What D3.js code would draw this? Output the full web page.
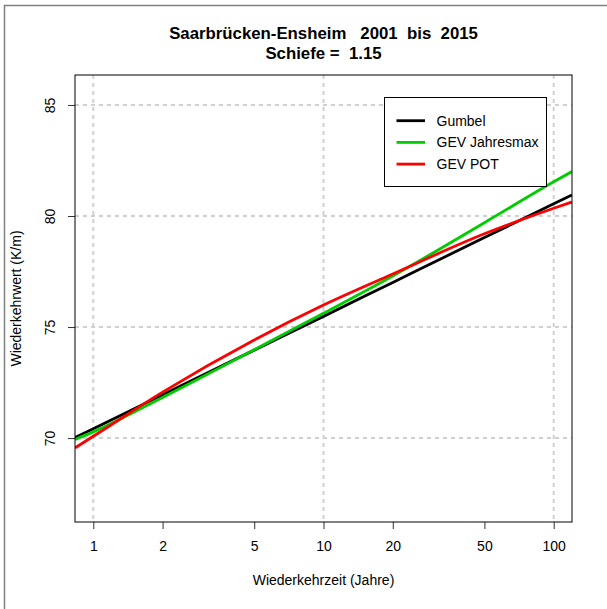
<!DOCTYPE html>
<html>
<head>
<meta charset="utf-8">
<script src="https://cdn.jsdelivr.net/npm/d3@7"></script>
<style>
  html, body { margin: 0; padding: 0; background: #fff; }
  svg { display: block; font-family: "Liberation Sans", Arial, Helvetica, sans-serif; }
</style>
</head>
<body>
<svg id="chart" width="607" height="609"></svg>
<script>
// ---- data ----
const returnPeriods = [0.833, 1, 2, 5, 10, 20, 50, 100, 120];
const gumbel        = [70.02, 70.42, 71.95, 73.96, 75.48, 77.01, 79.03, 80.55, 80.95];
const gevJahresmax  = [69.94, 70.28, 71.83, 73.98, 75.62, 77.30, 79.70, 81.54, 82.00];
const gevPot        = [69.56, 70.08, 72.07, 74.42, 75.99, 77.39, 79.20, 80.35, 80.63];

const xTicks = [1, 2, 5, 10, 20, 50, 100];
const xGrid = [1, 10, 100];
const yTicks = [70, 75, 80, 85];

const seriesNames = ["Gumbel", "GEV Jahresmax", "GEV POT"];
const seriesColors = ["#000000", "#00cd00", "#ff0000"];
const seriesValues = [gumbel, gevJahresmax, gevPot];

const titleLine1 = "Saarbrücken-Ensheim   2001  bis  2015";
const titleLine2 = "Schiefe =  1.15";
const xLabel = "Wiederkehrzeit (Jahre)";
const yLabel = "Wiederkehrwert (K/m)";

// ---- layout ----
const plot = { left: 75, right: 572, top: 75, bottom: 522 };
const fs = 14;
const svg = d3.select("#chart");

const x = d3.scaleLog()
  .domain([Math.pow(10, -0.0795), Math.pow(10, 2.0795)])
  .range([plot.left, plot.right]);
const y = d3.scaleLinear()
  .domain([66.22, 86.35])
  .range([plot.bottom, plot.top]);

// outer figure frame
svg.append("rect")
  .attr("x", 4.5).attr("y", 5.5)
  .attr("width", 700).attr("height", 700)
  .attr("fill", "none").attr("stroke", "#808080").attr("stroke-width", 1.5);

// clip
svg.append("clipPath").attr("id", "clip")
  .append("rect")
  .attr("x", plot.left).attr("y", plot.top)
  .attr("width", plot.right - plot.left).attr("height", plot.bottom - plot.top);

// grid
const grid = svg.append("g")
  .attr("stroke", "#d0d0d0").attr("stroke-width", 2)
  .attr("stroke-dasharray", "4,4").attr("fill", "none");
grid.selectAll("line.v").data(xGrid).join("line")
  .attr("class", "v")
  .attr("x1", d => x(d)).attr("x2", d => x(d))
  .attr("y1", plot.top).attr("y2", plot.bottom);
grid.selectAll("line.h").data(yTicks).join("line")
  .attr("class", "h")
  .attr("x1", plot.left).attr("x2", plot.right)
  .attr("y1", d => y(d)).attr("y2", d => y(d));

// axes
const xAxis = d3.axisBottom(x).tickValues(xTicks).tickFormat(d3.format("d"))
  .tickSizeInner(7).tickSizeOuter(0).tickPadding(12);
const gx = svg.append("g").attr("transform", `translate(0,${plot.bottom})`).call(xAxis);
gx.select(".domain").remove();
gx.selectAll(".tick line").attr("stroke", "#333");
gx.selectAll(".tick text")
  .attr("font-size", fs).attr("fill", "#000")
  .attr("font-family", "Liberation Sans, Arial, sans-serif");

const yAxis = d3.axisLeft(y).tickValues(yTicks).tickFormat(d3.format("d"))
  .tickSizeInner(7).tickSizeOuter(0);
const gy = svg.append("g").attr("transform", `translate(${plot.left},0)`).call(yAxis);
gy.select(".domain").remove();
gy.selectAll(".tick line").attr("stroke", "#333");
gy.selectAll(".tick text")
  .attr("x", null).attr("dy", null)
  .attr("text-anchor", "middle")
  .attr("transform", "translate(-20,0) rotate(-90)")
  .attr("font-size", fs).attr("fill", "#000")
  .attr("font-family", "Liberation Sans, Arial, sans-serif");

// lines
const line = d3.line()
  .x(d => x(d[0])).y(d => y(d[1]))
  .curve(d3.curveMonotoneX);
const lg = svg.append("g").attr("clip-path", "url(#clip)");
seriesValues.forEach((vals, i) => {
  const pts = returnPeriods.map((t, j) => [t, vals[j]]);
  lg.append("path")
    .datum(pts)
    .attr("d", line)
    .attr("fill", "none")
    .attr("stroke", seriesColors[i])
    .attr("stroke-width", 2.8);
});

// plot box
svg.append("rect")
  .attr("x", plot.left).attr("y", plot.top)
  .attr("width", plot.right - plot.left).attr("height", plot.bottom - plot.top)
  .attr("fill", "none").attr("stroke", "#000").attr("stroke-width", 1);

// legend
const leg = { x: 384.5, y: 97.5, w: 162, h: 89 };
svg.append("rect")
  .attr("x", leg.x).attr("y", leg.y).attr("width", leg.w).attr("height", leg.h)
  .attr("fill", "#fff").attr("stroke", "#000").attr("stroke-width", 1);
seriesNames.forEach((name, i) => {
  const cy = 120.7 + i * 21.7;
  svg.append("line")
    .attr("x1", 396.5).attr("x2", 425).attr("y1", cy).attr("y2", cy)
    .attr("stroke", seriesColors[i]).attr("stroke-width", 2.8);
  svg.append("text")
    .attr("x", 436.5).attr("y", cy + 5)
    .attr("font-size", fs).attr("fill", "#000")
    .text(name);
});

// titles
const cx = (plot.left + plot.right) / 2;
svg.append("text")
  .attr("x", cx).attr("y", 39).attr("text-anchor", "middle")
  .attr("font-size", 16.8).attr("font-weight", "bold")
  .style("white-space", "pre")
  .text(titleLine1);
svg.append("text")
  .attr("x", cx).attr("y", 58.5).attr("text-anchor", "middle")
  .attr("font-size", 16.8).attr("font-weight", "bold")
  .style("white-space", "pre")
  .text(titleLine2);

svg.append("text")
  .attr("x", cx).attr("y", 585).attr("text-anchor", "middle")
  .attr("font-size", fs)
  .text(xLabel);
svg.append("text")
  .attr("transform", `translate(21,${(plot.top + plot.bottom) / 2}) rotate(-90)`)
  .attr("text-anchor", "middle")
  .attr("font-size", fs)
  .text(yLabel);
</script>
</body>
</html>
